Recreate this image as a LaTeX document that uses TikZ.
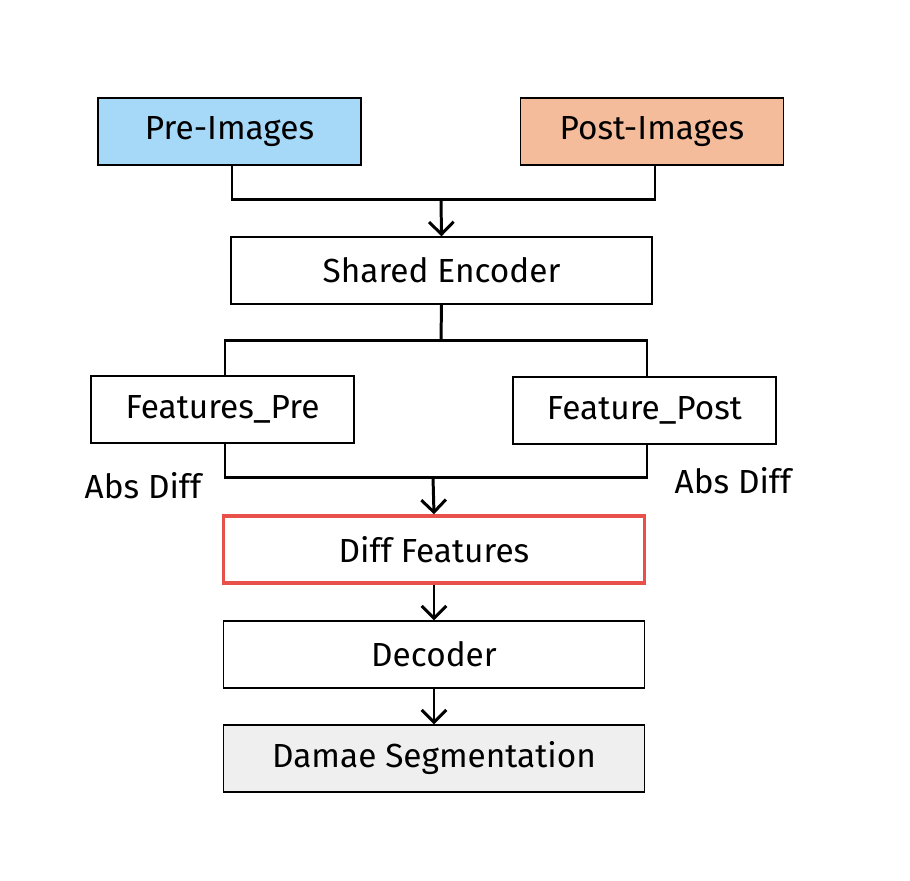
\documentclass[tikz,border=0pt]{standalone}
\usepackage{fontspec}
\setmainfont{Fira Sans}
\usetikzlibrary{arrows.meta}
\definecolor{preblue}{HTML}{A6D8F8}
\definecolor{postorange}{HTML}{F4BC9A}
\definecolor{diffred}{HTML}{E8514A}
\definecolor{outgray}{HTML}{EFEFEF}
\begin{document}
\begin{tikzpicture}[x=0.02cm, y=-0.02cm,
  box/.style = {draw, line width=0.8pt, minimum height=1.34cm, font=\fontsize{19}{23}\selectfont},
  small/.style = {box, minimum width=5.26cm},
  wide/.style = {box, minimum width=8.42cm},
  link/.style = {line width=1.7pt},
  arrow/.style = {link, -{Straight Barb[length=7pt, width=14pt, line width=1.7pt]}}]
\useasboundingbox (0,0) rectangle (910,880);
% inputs
\node[small, fill = preblue] (pre) at (229.5,131.5) {Pre-Images};
\node[small, fill = postorange] (post) at (652,131.5) {Post-Images};
\node[wide] (enc) at (441.5,270.5) {Shared Encoder};
% features
\node[small] (fpre) at (222.5,409.5) {Features\_Pre};
\node[small] (fpost) at (644.5,410.5) {Feature\_Post};
\node[wide, draw = diffred, line width=2pt] (diff) at (434,549.5) {Diff Features};
\node[wide] (dec) at (434,654.5) {Decoder};
\node[wide, fill = outgray] (seg) at (434,758.5) {Damae Segmentation};
\node[font=\fontsize{19}{23}\selectfont] (absl) at (143,486) {Abs Diff};
\node[font=\fontsize{19}{23}\selectfont] (absr) at (733,481) {Abs Diff};
\coordinate (join1) at (441,199);
\coordinate (split) at (441,340);
\coordinate (join2) at (433,477);
% connectors
\draw[link] ([xshift=0.05cm]pre.south) |- (join1) -| ([xshift=0.06cm]post.south);
\draw[arrow] (join1) -- (enc.north);
\draw[link] (enc.south) -- (split);
\draw[link] ([xshift=0.05cm]fpre.north) |- (split) -| ([xshift=0.05cm]fpost.north);
\draw[link] ([xshift=0.05cm]fpre.south) |- (join2) -| ([xshift=0.05cm]fpost.south);
\draw[arrow] (join2) -- (diff.north);
\draw[arrow] (diff.south) -- (dec.north);
\draw[arrow] (dec.south) -- (seg.north);
\end{tikzpicture}
\end{document}
